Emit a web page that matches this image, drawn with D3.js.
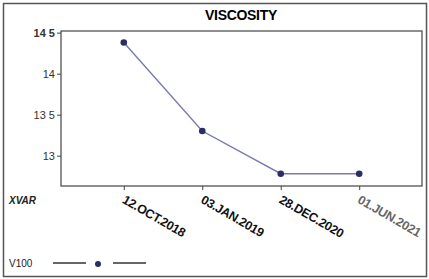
<!DOCTYPE html>
<html>
<head>
<meta charset="utf-8">
<script src="https://cdn.jsdelivr.net/npm/d3@7"></script>
<style>
  body { margin: 0; background: #fff; }
  svg { font-family: "Liberation Sans", Arial, sans-serif; }
</style>
</head>
<body>
<div id="chart"></div>
<script>
// data
const dates = ["12.OCT.2018", "03.JAN.2019", "28.DEC.2020", "01.JUN.2021"];
const v100 = [14.38, 13.3, 12.78, 12.78];
const yTicks = [13, 13.5, 14, 14.5];
const seriesName = "V100";

const W = 429, H = 279;
const margin = {top: 31, right: 7, bottom: 93, left: 61};
const width = W - margin.left - margin.right,
      height = H - margin.top - margin.bottom;

const svg = d3.select("#chart").append("svg")
    .attr("width", W).attr("height", H);

// outer frame
svg.append("rect")
    .attr("x", 3.5).attr("y", 3.5)
    .attr("width", W - 6).attr("height", H - 6)
    .attr("fill", "none").attr("stroke", "#555").attr("stroke-width", 1.5);

svg.append("text")
    .attr("x", 241).attr("y", 20)
    .attr("text-anchor", "middle")
    .style("font-weight", "bold").style("font-size", "14px")
    .style("letter-spacing", "-0.3px")
    .text("VISCOSITY");

const g = svg.append("g")
    .attr("transform", `translate(${margin.left},${margin.top})`);

const x = d3.scalePoint().domain(dates).range([0, width]).padding(0.8);
const y = d3.scaleLinear().domain([12.63, 14.52]).range([height, 0]);

// plot box
g.append("rect")
    .attr("width", width).attr("height", height)
    .attr("fill", "none").attr("stroke", "#444").attr("stroke-width", 1.2);

// y axis
const yAxis = g.append("g")
    .call(d3.axisLeft(y).tickValues(yTicks).tickSize(4).tickPadding(2)
        .tickFormat(d => d3.format(".1f")(d).replace(".0", "").replace(".", " ")));
yAxis.select(".domain").remove();
yAxis.selectAll("text").style("font-size", "11px").attr("fill", "#333");
yAxis.selectAll("text").filter(d => d === 14.5).style("font-weight", "bold");
yAxis.selectAll("line").attr("stroke", "#444");

// x axis
const xAxis = g.append("g")
    .attr("transform", `translate(0,${height})`)
    .call(d3.axisBottom(x).tickSize(4).tickPadding(4));
xAxis.select(".domain").remove();
xAxis.selectAll("line").attr("stroke", "#444");
xAxis.selectAll("text")
    .attr("text-anchor", "start")
    .attr("dy", "0.3em")
    .attr("transform", "translate(3,6) rotate(30)")
    .style("font-size", "12.5px").style("font-weight", "bold")
    .style("letter-spacing", "-0.3px")
    .attr("fill", (d, i) => i === 3 ? "#666" : "#111");

svg.append("text")
    .attr("x", 9).attr("y", 204)
    .style("font-size", "10px").style("font-weight", "bold").style("font-style", "italic")
    .attr("fill", "#222")
    .text("XVAR");

// line + markers
const line = d3.line().x((d, i) => x(dates[i])).y(d => y(d));
g.append("path").datum(v100)
    .attr("d", line)
    .attr("fill", "none").attr("stroke", "#7a7ab0").attr("stroke-width", 1.4);
g.selectAll("circle.pt").data(v100).enter().append("circle")
    .attr("class", "pt")
    .attr("cx", (d, i) => x(dates[i])).attr("cy", d => y(d))
    .attr("r", 3.3).attr("fill", "#2c2c66");

// legend
const lg = svg.append("g").attr("transform", "translate(0,263)");
lg.append("text").attr("x", 9).attr("y", 4)
    .style("font-size", "10px").attr("fill", "#222").text(seriesName);
lg.append("line").attr("x1", 53).attr("x2", 86).attr("y1", 0).attr("y2", 0)
    .attr("stroke", "#333").attr("stroke-width", 1.3);
lg.append("circle").attr("cx", 98).attr("cy", 1).attr("r", 3).attr("fill", "#2c2c66");
lg.append("line").attr("x1", 113).attr("x2", 146).attr("y1", 0).attr("y2", 0)
    .attr("stroke", "#333").attr("stroke-width", 1.3);
</script>
</body>
</html>
